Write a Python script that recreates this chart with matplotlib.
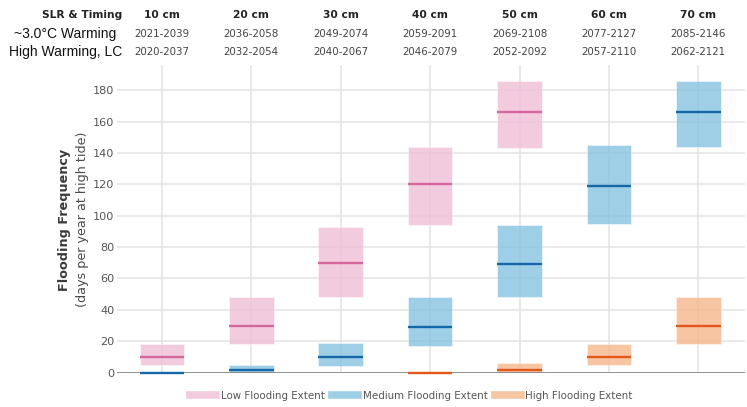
import matplotlib.pyplot as plt
import matplotlib.transforms as mtransforms
from matplotlib.lines import Line2D
import numpy as np

# SLR categories and timing windows
slr = ["10 cm", "20 cm", "30 cm", "40 cm", "50 cm", "60 cm", "70 cm"]
warm3 = ["2021-2039", "2036-2058", "2049-2074", "2059-2091", "2069-2108", "2077-2127", "2085-2146"]
highLC = ["2020-2037", "2032-2054", "2040-2067", "2046-2079", "2052-2092", "2057-2110", "2062-2121"]

# flooding frequency ranges (days/yr): low, median, high ; None = not shown
low_lo = [5, 18, 48, 94, 143, None, None]
low_med = [10, 30, 70, 120, 166, None, None]
low_hi = [18, 48, 93, 144, 186, None, None]

med_lo = [0, 0, 4, 17, 48, 95, 144]
med_med = [0, 2, 10, 29, 69, 119, 166]
med_hi = [0.5, 5, 19, 48, 94, 145, 186]

high_lo = [None, None, None, 0, 0, 5, 18]
high_med = [None, None, None, 0, 2, 10, 30]
high_hi = [None, None, None, 0, 6, 18, 48]

series = [("Low Flooding Extent", low_lo, low_med, low_hi, "#efbfd8", "#d4679c"),
          ("Medium Flooding Extent", med_lo, med_med, med_hi, "#87c3e1", "#1666aa"),
          ("High Flooding Extent", high_lo, high_med, high_hi, "#f6b78b", "#e2581a")]

fig = plt.figure(figsize=(7.47, 4.07), dpi=100)
ax = fig.add_axes([0.157, 0.0843, 0.84, 0.756])
x = np.arange(len(slr))

for name, lo, md, hi, fc, lc in series:
    for i in x:
        if lo[i] is None:
            continue
        h = hi[i] - lo[i]
        if h > 0.6:
            ax.bar(i, h, bottom=lo[i], width=0.5, color=fc, alpha=0.8, zorder=2,
                   edgecolor="white", linewidth=0.4)
        ax.hlines(md[i], i - 0.25, i + 0.25, color=lc, linewidth=1.7, zorder=4, clip_on=False)

ax.set_xlim(-0.5, 6.52)
ax.set_ylim(0, 196)
ax.set_yticks(range(0, 181, 20))
ax.set_xticks(x)
ax.set_xticklabels([])
ax.tick_params(axis="x", length=0)
ax.tick_params(axis="y", length=0, pad=2, labelsize=8.1, labelcolor="#555555")
for s in ax.spines.values():
    s.set_visible(False)
ax.grid(True, color="#e3e3e3", linewidth=1.1, zorder=0)
ax.set_axisbelow(True)
ax.axhline(0, color="#888888", linewidth=2, zorder=3)

# y label (two lines: bold + regular)
fig.text(0.087, 0.46, "Flooding Frequency", rotation=90, ha="center", va="center",
         fontsize=9.2, fontweight="bold", color="#3a3a3a")
fig.text(0.110, 0.46, "(days per year at high tide)", rotation=90, ha="center", va="center",
         fontsize=9.2, color="#4a4a4a")

# header table
tr = mtransforms.blended_transform_factory(ax.transData, fig.transFigure)
fig.text(0.163, 0.963, "SLR & Timing", ha="right", va="center", fontsize=7.7,
         fontweight="bold", color="#222222")
fig.text(0.156, 0.916, "~3.0°C Warming", ha="right", va="center", fontsize=10,
         family="Liberation Sans", color="#111111")
fig.text(0.163, 0.872, "High Warming, LC", ha="right", va="center", fontsize=10,
         family="Liberation Sans", color="#111111")
for i in x:
    ax.text(i, 0.963, slr[i], transform=tr, ha="center", va="center", fontsize=7.7,
            fontweight="bold", color="#222222")
    ax.text(i, 0.916, warm3[i], transform=tr, ha="center", va="center", fontsize=7.4,
            color="#444444")
    ax.text(i, 0.872, highLC[i], transform=tr, ha="center", va="center", fontsize=7.4,
            color="#444444")

handles = [Line2D([0], [0], color=s[4], alpha=0.8, linewidth=5.5) for s in series]
fig.legend(handles, [s[0] for s in series], loc="center", bbox_to_anchor=(0.551, 0.028),
           ncol=3, frameon=False, fontsize=7.4, labelcolor="#555555", handlelength=2.5,
           handletextpad=0.45, columnspacing=0.75)

fig.savefig("out.png", dpi=100)
